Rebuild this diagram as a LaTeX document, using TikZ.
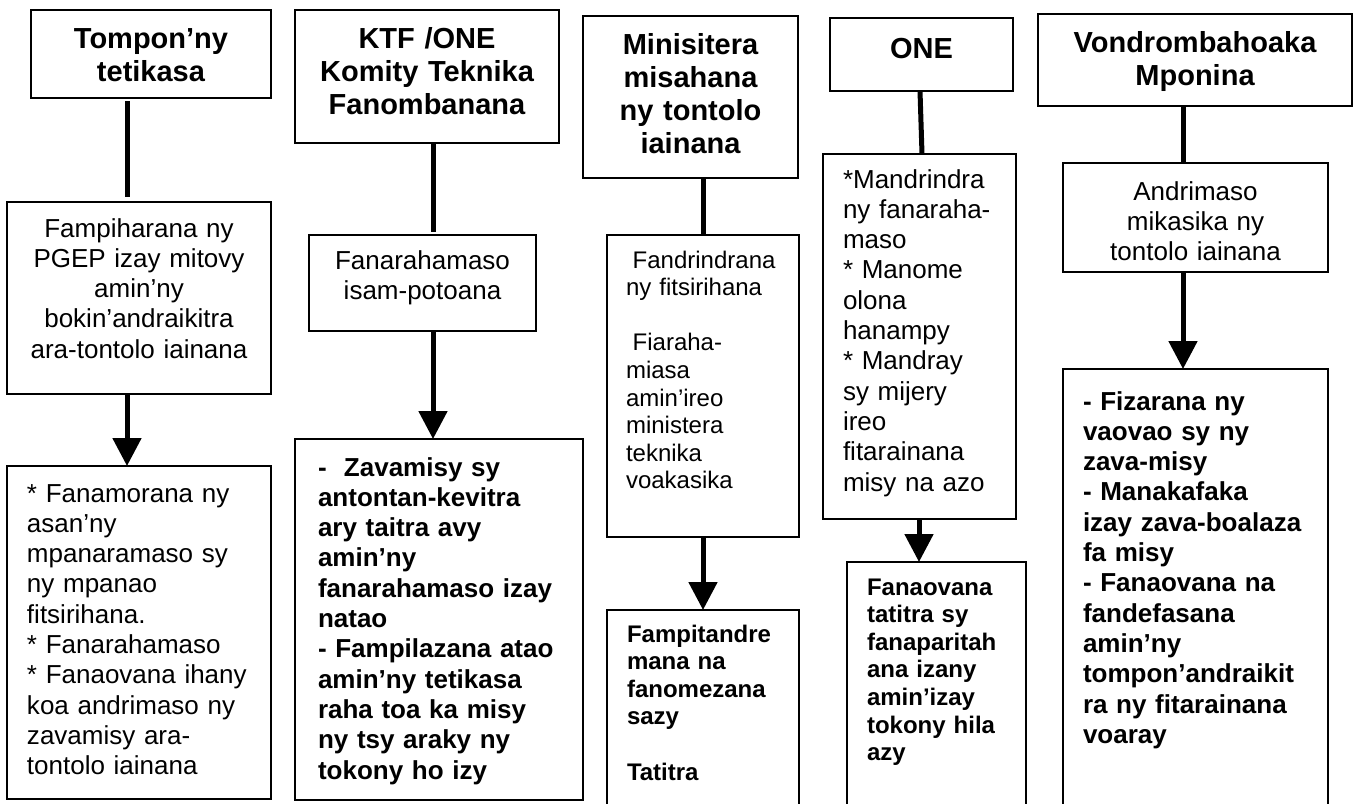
\documentclass[tikz,border=0pt]{standalone}
\usepackage{fontspec}
\setmainfont{Liberation Sans}
\usetikzlibrary{arrows.meta}
\def\lw{5pt}
\def\headfont{\fontsize{29}{33}\selectfont\bfseries}
\def\bodyfont{\fontsize{26}{30.3}\selectfont}
\def\notefont{\fontsize{24}{27.6}\selectfont}
\tikzset{
    border/.style = {
        draw, rectangle, line width=1.8pt, anchor=north west, inner ysep=0pt, outer sep=0pt
    },
    headborder/.style = {
        border, align=center, inner xsep=0pt, font=\headfont
    },
    textborder/.style = {
        border, align=center, inner xsep=0pt, font=\bodyfont
    },
    listborder/.style = {
        border, align=left, inner xsep=20pt, font=\bodyfont
    },
    boxsize/.style n args = {3}{
        text width=#1, text height=#2, text depth=#3
    },
}

\begin{document}
\begin{tikzpicture}[x=1pt, y=-1pt]
        \useasboundingbox (0,0) rectangle (1356,803);
        \clip (0,0) rectangle (1356,803);

        % Place the blocks 
        \node[headborder, boxsize={240pt}{38pt}{50pt}] (hd1) at (31,10) {Tompon’ny\\tetikasa};
        \node[textborder, boxsize={264pt}{35pt}{157pt}] (md1) at (7,202) {Fampiharana ny\\PGEP izay mitovy\\amin’ny\\bokin’andraikitra\\ara-tontolo iainana};
        \node[listborder, boxsize={224pt}{36pt}{297pt}] (lo1) at (7,466) {* Fanamorana ny\\asan’ny\\mpanaramaso sy\\ny mpanao\\fitsirihana.\\{}* Fanarahamaso\\{}* Fanaovana ihany\\koa andrimaso ny\\zavamisy ara-\\tontolo iainana};

        \node[headborder, boxsize={264pt}{38pt}{95pt}] (hd2) at (295,10) {KTF /ONE\\Komity Teknika\\Fanombanana};
        \node[textborder, boxsize={227pt}{34pt}{62pt}] (md2) at (309,235) {Fanarahamaso\\isam-potoana};
        \node[listborder, inner xsep=23pt, font=\bodyfont\bfseries, boxsize={242pt}{37pt}{324pt}] (lo2) at (295,439) {-~ Zavamisy sy\\antontan-kevitra\\ary taitra avy\\amin’ny\\fanarahamaso izay\\natao\\- Fampilazana atao\\amin’ny tetikasa\\raha toa ka misy\\ny tsy araky ny\\tokony ho izy};

        \node[headborder, boxsize={215pt}{38pt}{124pt}] (hd3) at (583,16) {Minisitera\\misahana\\ny tontolo\\iainana};
        \node[listborder, inner xsep=19pt, font=\notefont, boxsize={154pt}{33pt}{269pt}] (md3) at (607,235) {\hspace*{.28em}Fandrindrana\\ny fitsirihana\\[27.6pt]\hspace*{.28em}Fiaraha-\\miasa\\amin’ireo\\ministera\\teknika\\voakasika};
        \node[listborder, font=\notefont\bfseries, boxsize={152pt}{32pt}{164pt}] (lo3) at (607,610) {Fampitandre\\mana na\\fanomezana\\sazy\\[27.6pt]Tatitra};

        \node[headborder, boxsize={183pt}{40pt}{33pt}] (hd4) at (830,18) {ONE};
        \node[listborder, boxsize={153pt}{34pt}{331pt}] (md4) at (823,154) {*Mandrindra\\ny fanaraha-\\maso\\{}* Manome\\olona\\hanampy\\{}* Mandray\\sy mijery\\ireo\\fitarainana\\misy na azo};
        \node[listborder, font=\notefont\bfseries, boxsize={139pt}{33pt}{211pt}] (lo4) at (847,562) {Fanaovana\\tatitra sy\\fanaparitah\\ana izany\\amin’izay\\tokony hila\\azy};

        \node[headborder, boxsize={314pt}{38pt}{54pt}] (hd5) at (1038,14) {Vondrombahoaka\\Mponina};
        \node[textborder, boxsize={265pt}{37pt}{72pt}] (md5) at (1063,163) {Andrimaso\\mikasika ny\\tontolo iainana};
        \node[listborder, font=\bodyfont\bfseries, boxsize={225pt}{41pt}{396pt}] (lo5) at (1063,369) {- Fizarana ny\\vaovao sy ny\\zava-misy\\- Manakafaka\\izay zava-boalaza\\fa misy\\- Fanaovana na\\fandefasana\\amin’ny\\tompon’andraikit\\ra ny fitarainana\\voaray};

        % Draw connections 
        \coordinate (c1) at (127,0);
        \coordinate (c2) at (433,0);
        \coordinate (c3) at (703,0);
        \coordinate (c4a) at (920,0);
        \coordinate (c4b) at (922,0);
        \coordinate (c4) at (919,0);
        \coordinate (c5) at (1183,0);
        \begin{scope}[line width=\lw, >={Triangle[width=28pt,length=28pt]}]
            \draw[shorten <=3pt, shorten >=5pt] (hd1.south -| c1) -- (md1.north -| c1);
            \draw[->] (md1.south -| c1) -- (lo1.north -| c1);
            \draw[shorten >=3pt] (hd2.south -| c2) -- (md2.north -| c2);
            \draw[->] (md2.south -| c2) -- (lo2.north -| c2);
            \draw (hd3.south -| c3) -- (md3.north -| c3);
            \draw[->] (md3.south -| c3) -- (lo3.north -| c3);
            \draw (hd4.south -| c4a) -- (md4.north -| c4b);
            \draw[->] (md4.south -| c4) -- (lo4.north -| c4);
            \draw (hd5.south -| c5) -- (md5.north -| c5);
            \draw[->] (md5.south -| c5) -- (lo5.north -| c5);
        \end{scope}
    \end{tikzpicture}
\end{document}
